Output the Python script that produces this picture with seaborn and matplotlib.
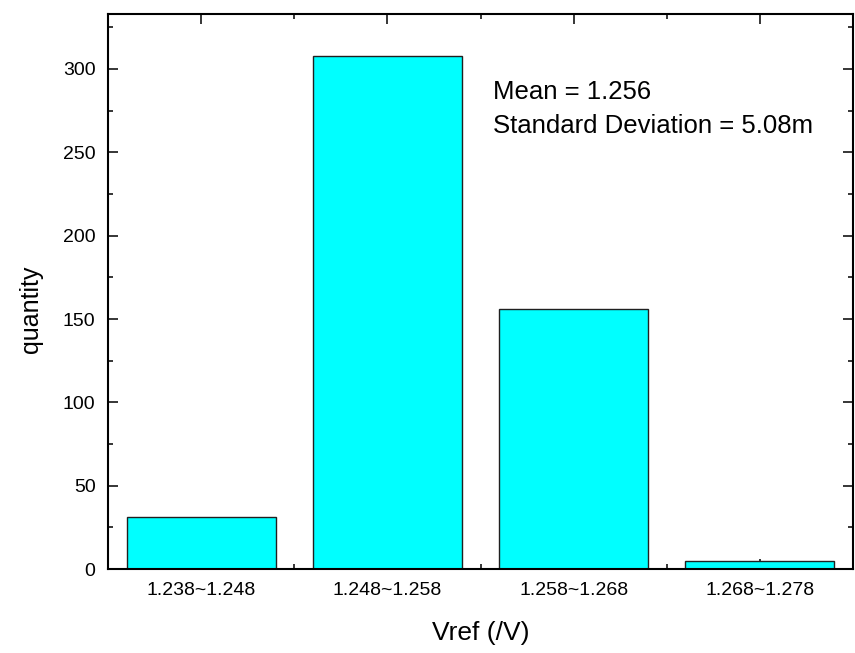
import matplotlib
matplotlib.use("Agg")
import matplotlib.pyplot as plt
from matplotlib.ticker import MultipleLocator, FixedLocator
import seaborn as sns
import pandas as pd

# ===== data =====
bins = ["1.238~1.248", "1.248~1.258", "1.258~1.268", "1.268~1.278"]
counts = [31, 308, 156, 5]
mean_text = "Mean = 1.256"
std_text = "Standard Deviation = 5.08m"

sns.set_theme(style="white")
plt.rcParams['font.family'] = ['Liberation Sans', 'DejaVu Sans']
plt.rcParams['text.color'] = 'black'
plt.rcParams['axes.labelcolor'] = 'black'
plt.rcParams['xtick.color'] = 'black'
plt.rcParams['ytick.color'] = 'black'

df = pd.DataFrame({"bin": bins, "quantity": counts})

fig = plt.figure(figsize=(8.55, 6.53), dpi=100)
ax = fig.add_axes([0.1263, 0.1286, 0.8714, 0.85])

sns.barplot(data=df, x="bin", y="quantity", color="#00FFFF", saturation=1,
            edgecolor="#202020", linewidth=1.0, width=0.8, ax=ax)

ax.set_xlim(-0.5, 3.5)
ax.set_ylim(0, 333)
ax.yaxis.set_major_locator(MultipleLocator(50))
ax.yaxis.set_minor_locator(MultipleLocator(25))
ax.xaxis.set_minor_locator(FixedLocator([0.5, 1.5, 2.5]))

for s in ax.spines.values():
    s.set_visible(True)
    s.set_color("black")
    s.set_linewidth(1.5)

ax.tick_params(which="both", direction="in", top=True, right=True,
               bottom=True, left=True, color="black", width=1.1)
ax.tick_params(which="major", length=7, labelsize=14, pad=9)
ax.tick_params(which="minor", length=3.5)

ax.set_xlabel("Vref (/V)", fontsize=19, labelpad=16)
ax.set_ylabel("quantity", fontsize=18, labelpad=14)
ax.yaxis.label.set_y(0.468)

ax.text(0.517, 0.847, mean_text, transform=ax.transAxes, fontsize=18.5, va="baseline")
ax.text(0.517, 0.786, std_text, transform=ax.transAxes, fontsize=18.5, va="baseline")

fig.savefig("out.png", dpi=100, facecolor="white")
